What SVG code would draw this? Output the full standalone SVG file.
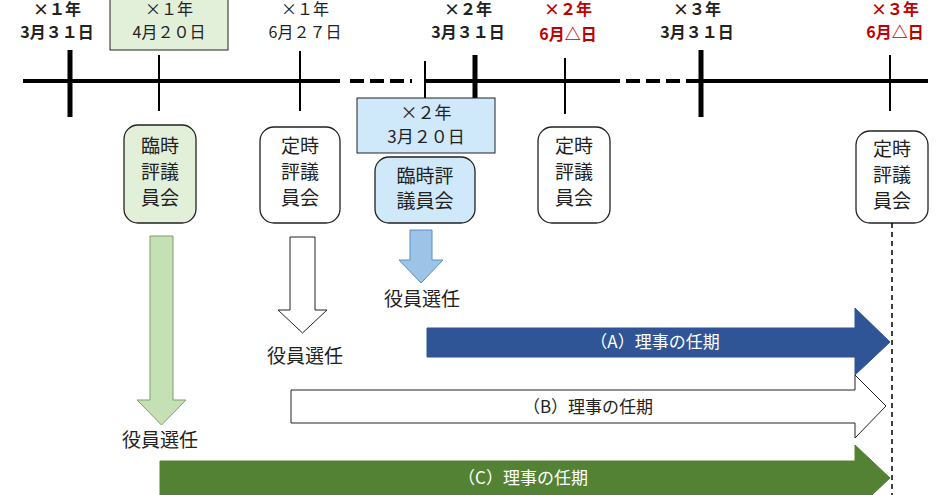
<svg xmlns="http://www.w3.org/2000/svg" width="941" height="495" viewBox="0 0 941 495">
<style>
text{font-family:"Noto Sans CJK JP","Noto Sans",sans-serif;text-anchor:middle;font-size:19px;fill:#222}
.d{font-size:16px}
.b{font-weight:bold;font-size:16px}
.r{fill:#c00000}
.w{fill:#fff}
.a{font-size:17px}
.tl{stroke:#000;stroke-width:4;fill:none}
.tk{stroke:#000;stroke-width:5}
.tn{stroke:#000;stroke-width:2}
.n{stroke:#222;stroke-width:1.3}
</style>
<g id="timeline">
<line class="tl" x1="23" y1="81" x2="340" y2="81"/>
<line class="tl" x1="350" y1="81" x2="412" y2="81" stroke-dasharray="14,6"/>
<line class="tl" x1="425" y1="81" x2="620" y2="81"/>
<line class="tl" x1="626" y1="81" x2="700" y2="81" stroke-dasharray="14,6"/>
<line class="tl" x1="700" y1="81" x2="928" y2="81"/>
<line class="tk" x1="70" y1="50" x2="70" y2="117"/>
<line class="tk" x1="475" y1="55" x2="475" y2="98"/>
<line class="tk" x1="701" y1="50" x2="701" y2="117"/>
<line class="tn" x1="159" y1="55" x2="159" y2="111"/>
<line class="tn" x1="300" y1="51" x2="300" y2="111"/>
<line class="tn" x1="425" y1="61" x2="425" y2="98"/>
<line class="tn" x1="565" y1="58" x2="565" y2="114"/>
<line class="tn" x1="890" y1="55" x2="890" y2="111"/>
</g>
<g id="dates">
<text class="b" x="57" y="15">×１年</text><text class="b" x="57" y="38">3月３１日</text>
<rect x="110" y="-1" width="118" height="51" fill="#e2efd9" stroke="#222"/>
<text class="d" x="169" y="15">×１年</text><text class="d" x="169" y="38">4月２０日</text>
<text class="d" x="305" y="15">×１年</text><text class="d" x="305" y="38">6月２７日</text>
<text class="b" x="468" y="15">×２年</text><text class="b" x="468" y="38">3月３１日</text>
<text class="b r" x="568" y="15">×２年</text><text class="b r" x="568" y="40">6月△日</text>
<text class="b" x="697" y="15">×３年</text><text class="b" x="697" y="38">3月３１日</text>
<text class="b r" x="895" y="15">×３年</text><text class="b r" x="895" y="38">6月△日</text>
<rect x="357" y="98" width="138" height="55" fill="#cfe8fa" stroke="#222"/>
<text class="a" x="426" y="119">×２年</text><text class="a" x="426" y="143">3月２０日</text>
</g>
<g id="node1"><rect class="n" x="124" y="125" width="72" height="98" rx="14" fill="#e2efd9"/>
<text x="160" y="153">臨時</text><text x="160" y="179">評議</text><text x="160" y="205">員会</text></g>
<g id="node2"><rect class="n" x="260" y="127" width="80" height="96" rx="14" fill="#fff"/>
<text x="300" y="153">定時</text><text x="300" y="179">評議</text><text x="300" y="205">員会</text></g>
<g id="node3"><rect class="n" x="375" y="157" width="100" height="66" rx="14" fill="#cfe8fa"/>
<text x="425" y="183">臨時評</text><text x="425" y="208">議員会</text></g>
<g id="node4"><rect class="n" x="538" y="127" width="72" height="96" rx="14" fill="#fff"/>
<text x="574" y="153">定時</text><text x="574" y="179">評議</text><text x="574" y="205">員会</text></g>
<g id="node5"><rect class="n" x="856" y="131" width="72" height="92" rx="14" fill="#fff"/>
<text x="892" y="156">定時</text><text x="892" y="182">評議</text><text x="892" y="208">員会</text></g>
<g id="connectors">
<line x1="892" y1="223" x2="892" y2="495" stroke="#000" stroke-width="1.5" stroke-dasharray="5,4"/>
<polygon points="150,236 173,236 173,400 186,400 161.5,425 137,400 150,400" fill="#c5e0b4" stroke="#7f9f6f"/>
<polygon points="290,237 315,237 315,310 327,310 302.5,333 278,310 290,310" fill="#fff" stroke="#222"/>
<polygon points="410,230 432,230 432,260 443,260 421,283 399,260 410,260" fill="#9dc3e6" stroke="#5b8fc7"/>
<polygon points="427,328 855,328 855,308 890,342 855,375 855,357 427,357" fill="#2f5597" stroke="#2f5597"/>
<polygon points="291,390 855,390 855,375 886,406 855,438 855,423 291,423" fill="#fff" stroke="#222"/>
<polygon points="160,461 855,461 855,445 890,478 855,511 855,495 160,495" fill="#548235" stroke="#548235"/>
</g>
<g id="labels">
<text x="160" y="447">役員選任</text>
<text x="305" y="363">役員選任</text>
<text x="422" y="306">役員選任</text>
<text class="w a" x="655" y="348">（A）理事の任期</text>
<text class="a" x="588" y="413">（B）理事の任期</text>
<text class="w a" x="523" y="484">（C）理事の任期</text>
</g>
</svg>
